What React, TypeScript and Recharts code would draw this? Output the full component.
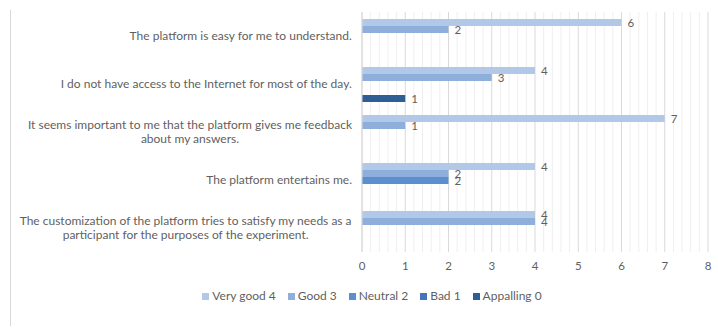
import React from 'react';
import { BarChart, Bar, XAxis, YAxis, CartesianGrid, Legend, LabelList } from 'recharts';

// Category labels (line breaks where the original wraps)
const categories = [
  'The platform is easy for me to understand.',
  'I do not have access to the Internet for most of the day.',
  'It seems important to me that the platform gives me feedback\nabout my answers.',
  'The platform entertains me.',
  'The customization of the platform tries to satisfy my needs as a\nparticipant for the purposes of the experiment.',
];

const veryGood = [6, 4, 7, 4, 4];
const good = [2, 3, 1, 2, 4];
const neutral = [0, 0, 0, 2, 0];
const bad = [0, 0, 0, 0, 0];
const appalling = [0, 1, 0, 0, 0];

const xTicks = [0, 1, 2, 3, 4, 5, 6, 7, 8];

const series = [
  { key: 'Very good 4', values: veryGood, color: '#b3c7e6' },
  { key: 'Good 3', values: good, color: '#8eaedb' },
  { key: 'Neutral 2', values: neutral, color: '#5b8fcf' },
  { key: 'Bad 1', values: bad, color: '#4676b8' },
  { key: 'Appalling 0', values: appalling, color: '#2f5d96' },
];

const data = categories.map((name, i) => {
  const row: Record<string, string | number> = { name };
  series.forEach((s) => {
    row[s.key] = s.values[i];
  });
  return row;
});

const FONT = 'Lato, "Open Sans", sans-serif';
const TEXT = '#5f5f5f';
const LABEL_SIZE = 12;

let canvas: HTMLCanvasElement | null = null;
const measure = (text: string, size: number) => {
  if (!canvas) canvas = document.createElement('canvas');
  const ctx = canvas.getContext('2d');
  if (!ctx) return text.length * size * 0.5;
  ctx.font = `${size}px Lato`;
  return ctx.measureText(text).width;
};

const CategoryTick = (props: any) => {
  const { x, y, payload } = props;
  const lines: string[] = String(payload.value).split('\n');
  const lineH = 14;
  const right = x - 2;
  const widths = lines.map((l) => measure(l, LABEL_SIZE));
  const blockW = Math.max(...widths);
  const cx = right - blockW / 2;
  const startY = y - ((lines.length - 1) * lineH) / 2;
  return (
    <g>
      {lines.map((l, i) => (
        <text
          key={i}
          x={cx}
          y={startY + i * lineH}
          dy="0.35em"
          textAnchor="middle"
          fill={TEXT}
          fontSize={LABEL_SIZE}
          fontFamily={FONT}
        >
          {l}
        </text>
      ))}
    </g>
  );
};

const minorLines = ({ offset }: any) => {
  const pts: number[] = [];
  for (let i = 0; i <= 40; i++) {
    if (i % 5 !== 0) pts.push(offset.left + (offset.width * i) / 40);
  }
  return pts;
};

const hideZero = (v: any) => (v ? v : '');

const LegendContent = () => (
  <div
    style={{
      display: 'flex',
      justifyContent: 'center',
      height: 18,
      lineHeight: '18px',
      fontFamily: FONT,
      fontSize: 12,
      color: TEXT,
      paddingLeft: 48,
    }}
  >
    {series.map((s) => (
      <span key={s.key} style={{ display: 'inline-flex', alignItems: 'center', marginRight: 12 }}>
        <span style={{ width: 7, height: 7, background: s.color, marginRight: 3, display: 'inline-block' }} />
        {s.key}
      </span>
    ))}
  </div>
);

export default function App() {
  return (
    <div style={{ position: 'absolute', left: 0, top: 0, width: 718, height: 332, background: '#fff' }}>
      <div style={{ position: 'absolute', left: 10, top: 10, width: 1, height: 316, background: '#d9d9d9' }} />
      <BarChart
        width={718}
        height={332}
        data={data}
        layout="vertical"
        margin={{ top: 12, right: 10, bottom: 27, left: 0 }}
        barGap={0}
        barCategoryGap={6}
      >
        <CartesianGrid horizontal={false} stroke="#efefef" verticalCoordinatesGenerator={minorLines} />
        <CartesianGrid horizontal={false} stroke="#d9d9d9" />
        <XAxis
          type="number"
          domain={[0, 8]}
          ticks={xTicks}
          axisLine={false}
          tickLine={false}
          tickMargin={4}
          height={35}
          tick={{ fill: TEXT, fontSize: 11.5, fontFamily: FONT }}
        />
        <YAxis
          type="category"
          dataKey="name"
          width={362}
          axisLine={{ stroke: '#d9d9d9' }}
          tickLine={false}
          interval={0}
          tick={<CategoryTick />}
        />
        <Legend verticalAlign="bottom" height={18} content={<LegendContent />} />
        {series.map((s) => (
          <Bar key={s.key} dataKey={s.key} fill={s.color} barSize={7} isAnimationActive={false}>
            <LabelList
              dataKey={s.key}
              position="right"
              offset={6}
              formatter={hideZero}
              fill={TEXT}
              fontSize={11.5}
              fontFamily={FONT}
            />
          </Bar>
        ))}
      </BarChart>
    </div>
  );
}
